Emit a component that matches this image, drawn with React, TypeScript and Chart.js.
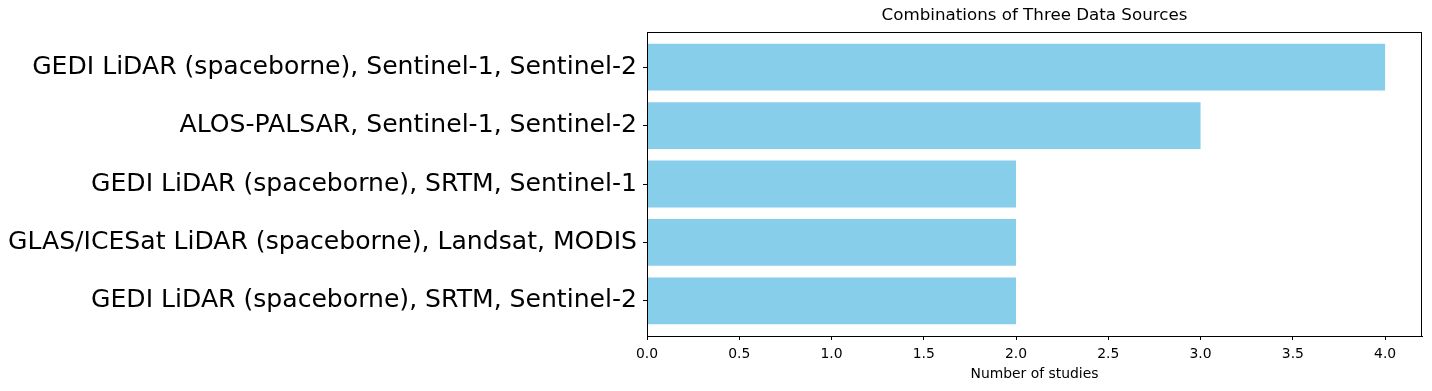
import React, { useEffect, useRef } from "react";
import { Chart, registerables } from "chart.js";

Chart.register(...registerables);

const categories: string[] = [
  "GEDI LiDAR (spaceborne), Sentinel-1, Sentinel-2",
  "ALOS-PALSAR, Sentinel-1, Sentinel-2",
  "GEDI LiDAR (spaceborne), SRTM, Sentinel-1",
  "GLAS/ICESat LiDAR (spaceborne), Landsat, MODIS",
  "GEDI LiDAR (spaceborne), SRTM, Sentinel-2",
];
const studyCounts: number[] = [4, 3, 2, 2, 2];
const xTickValues: number[] = [0, 0.5, 1, 1.5, 2, 2.5, 3, 3.5, 4];
const chartTitle = "Combinations of Three Data Sources";
const xAxisTitle = "Number of studies";

const FONT = "'DejaVu Sans', sans-serif";

const boxPlugin = {
  id: "boxAndTitle",
  afterDraw(chart: any) {
    const { ctx, chartArea } = chart;
    ctx.save();
    ctx.strokeStyle = "#000";
    ctx.lineWidth = 1;
    ctx.strokeRect(
      Math.round(chartArea.left) + 0.5,
      Math.round(chartArea.top) + 0.5,
      Math.round(chartArea.right - chartArea.left) - 1,
      Math.round(chartArea.bottom - chartArea.top)
    );
    ctx.fillStyle = "#000";
    ctx.font = `16.7px ${FONT}`;
    ctx.textAlign = "center";
    ctx.textBaseline = "middle";
    ctx.fillText(chartTitle, (chartArea.left + chartArea.right) / 2, 16);
    ctx.restore();
  },
};

export default function App() {
  const canvasRef = useRef<HTMLCanvasElement | null>(null);

  useEffect(() => {
    if (!canvasRef.current) return;
    const chart = new Chart(canvasRef.current, {
      type: "bar",
      data: {
        datasets: [
          {
            data: studyCounts.map((v, i) => ({ x: v, y: i })),
            backgroundColor: "#87CEEB",
            borderWidth: 0,
            categoryPercentage: 0.8,
            barPercentage: 1,
          },
        ],
      },
      options: {
        indexAxis: "y",
        animation: false,
        responsive: false,
        maintainAspectRatio: false,
        layout: { padding: { top: 32, right: 10, left: 0, bottom: 0 } },
        plugins: {
          legend: { display: false },
          tooltip: { enabled: false },
          title: { display: false },
        },
        scales: {
          y: {
            type: "linear",
            min: -0.6,
            max: 4.6,
            reverse: true,
            offset: false,
            afterBuildTicks: (axis: any) => {
              axis.ticks = categories.map((_, i) => ({ value: i }));
            },
            afterFit: (axis: any) => {
              axis.width = 647;
            },
            ticks: {
              autoSkip: false,
              callback: (value: any) => categories[Math.round(Number(value))] ?? "",
              font: { family: FONT, size: 25.1 },
              color: "#000",
              padding: 6,
            },
            grid: {
              display: true,
              offset: false,
              drawOnChartArea: false,
              drawTicks: true,
              tickLength: 4,
              color: "#000",
            },
            border: { display: true, color: "#000", width: 1 },
          },
          x: {
            type: "linear",
            min: 0,
            max: 4.2,
            offset: false,
            afterBuildTicks: (axis: any) => {
              axis.ticks = xTickValues.map((v) => ({ value: v }));
            },
            afterFit: (axis: any) => {
              axis.height = 55;
            },
            ticks: {
              autoSkip: false,
              maxRotation: 0,
              callback: (value: any) => Number(value).toFixed(1),
              font: { family: FONT, size: 13.9 },
              color: "#000",
              padding: 6,
            },
            grid: {
              display: true,
              offset: false,
              drawOnChartArea: false,
              drawTicks: true,
              tickLength: 4,
              color: "#000",
            },
            border: { display: true, color: "#000", width: 1 },
            title: {
              display: true,
              text: xAxisTitle,
              font: { family: FONT, size: 13.9 },
              color: "#000",
              padding: { top: 0, bottom: 8 },
            },
          },
        },
      } as any,
      plugins: [boxPlugin],
    });
    return () => chart.destroy();
  }, []);

  return (
    <div style={{ position: "absolute", left: 0, top: 0, width: 1432, height: 391, background: "#fff" }}>
      <canvas ref={canvasRef} width={1432} height={391} style={{ display: "block" }} />
    </div>
  );
}
